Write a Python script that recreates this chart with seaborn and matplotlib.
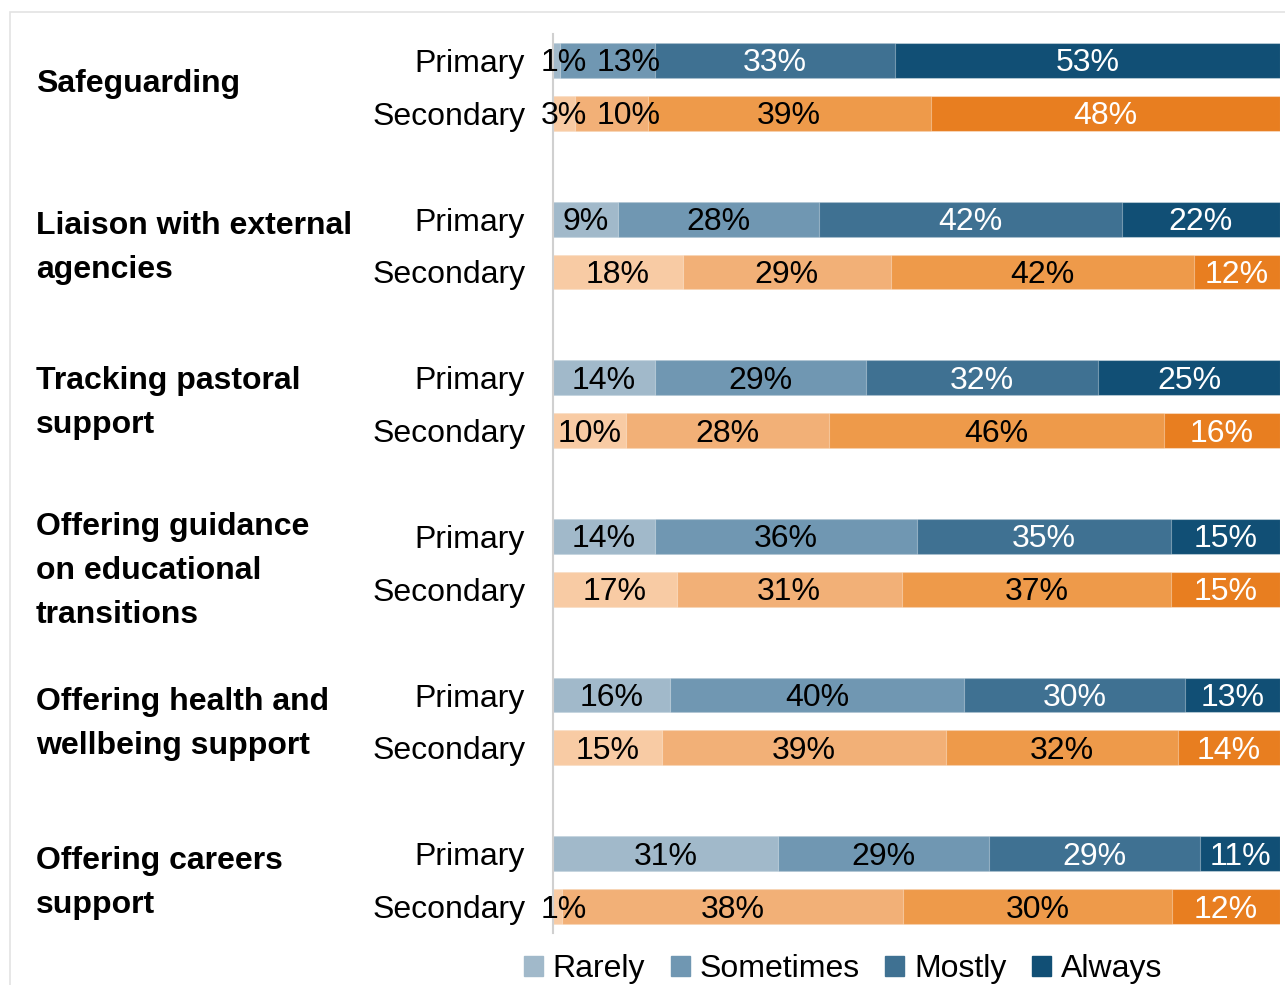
import matplotlib
matplotlib.use("Agg")
import matplotlib.pyplot as plt
import matplotlib.patches as mpatches
import matplotlib.transforms as mtransforms
import numpy as np
import pandas as pd
import seaborn as sns

# Survey areas (top to bottom) and response shares, in percent
areas = [
    "Safeguarding",
    "Liaison with external\nagencies",
    "Tracking pastoral\nsupport",
    "Offering guidance\non educational\ntransitions",
    "Offering health and\nwellbeing support",
    "Offering careers\nsupport",
]
responses = ["Rarely", "Sometimes", "Mostly", "Always"]
phases = ["Primary", "Secondary"]

primary_rarely = [1, 9, 14, 14, 16, 31]
primary_sometimes = [13, 28, 29, 36, 40, 29]
primary_mostly = [33, 42, 32, 35, 30, 29]
primary_always = [53, 22, 25, 15, 13, 11]

secondary_rarely = [3, 18, 10, 17, 15, 1]
secondary_sometimes = [10, 29, 28, 31, 39, 38]
secondary_mostly = [39, 42, 46, 37, 32, 30]
secondary_always = [48, 12, 16, 15, 14, 12]

blues = ["#a1b9ca", "#7097b2", "#3f7192", "#114f75"]
oranges = ["#f8cba4", "#f2b077", "#ee9a4a", "#e87e20"]
label_colors = {
    "Primary": ["black", "black", "white", "white"],
    "Secondary": ["black", "black", "black", "white"],
}
# vertical placement of each area name relative to its pair of bars
area_label_offset = [0.45, 0.55, 0.48, 0.65, 0.55, 0.55]

rows = []
for i, area in enumerate(areas):
    for j, (phase, vals) in enumerate([
        ("Primary", [primary_rarely[i], primary_sometimes[i], primary_mostly[i], primary_always[i]]),
        ("Secondary", [secondary_rarely[i], secondary_sometimes[i], secondary_mostly[i], secondary_always[i]]),
    ]):
        for resp, v in zip(responses, vals):
            rows.append({"area": area, "phase": phase, "pos": 3 * i + j,
                         "response": resp, "value": v})
df = pd.DataFrame(rows)
# 100% stacked: each bar is scaled by its own total
df["share"] = df["value"] / df.groupby(["area", "phase"])["value"].transform("sum")
df["cum"] = df.groupby(["area", "phase"])["share"].cumsum()
df["start"] = df["cum"] - df["share"]

sns.set_theme(style="white")
plt.rcParams["font.family"] = ["Liberation Sans", "DejaVu Sans"]
plt.rcParams["text.color"] = "black"
plt.rcParams["ytick.color"] = "black"

FS = 23

fig = plt.figure(figsize=(12.85, 9.85), dpi=100)
ax = fig.add_axes([553 / 1285, 1 - 933 / 985, 727 / 1285, (933 - 34) / 985])

# Outer frame
fig.patches.append(mpatches.Rectangle((10 / 1285, -0.1), 1.2, 1 - 12 / 985 + 0.1,
                                      transform=fig.transFigure, fill=False,
                                      edgecolor="#e3e3e3", linewidth=1.2, zorder=0))

# Draw cumulative bars from the outermost segment inwards so they stack.
# Bars of one phase sit 3 units apart, so width is relative to that spacing.
for phase, palette in [("Primary", blues), ("Secondary", oranges)]:
    sub = df[df["phase"] == phase]
    for k in range(len(responses) - 1, -1, -1):
        part = sub[sub["response"] == responses[k]]
        sns.barplot(data=part, x="cum", y="pos", orient="h", native_scale=True,
                    color=palette[k], saturation=1, width=0.66 / 3, errorbar=None,
                    edgecolor=(1, 1, 1, 0.35), linewidth=0.8, ax=ax)

ax.set_xlim(0, 1)
ax.set_ylim(16.5, -0.5)
ax.set_xticks([])
ax.set_xlabel("")
ax.set_ylabel("")
positions = sorted(df["pos"].unique())
ax.set_yticks(positions)
ax.set_yticklabels([phases[p % 3] for p in positions], fontsize=FS)
ax.tick_params(axis="y", length=0, pad=20)
for side in ["top", "right", "bottom"]:
    ax.spines[side].set_visible(False)
ax.spines["left"].set_color("#d0d0d0")
ax.spines["left"].set_linewidth(1.5)

# Value labels centred in each segment; kept near the plot area and
# nudged right where neighbours would collide
label_trans = mtransforms.offset_copy(ax.transData, fig=fig, y=-3, units="dots")
renderer = fig.canvas.get_renderer()
ax_left = ax.get_window_extent(renderer).x0
for (area, phase), grp in df.groupby(["area", "phase"], sort=False):
    prev_right = None
    for _, r in grp.iterrows():
        k = responses.index(r["response"])
        t = ax.text(r["start"] + r["share"] / 2, r["pos"], f"{r['value']}%",
                    ha="center", va="center", fontsize=FS, transform=label_trans,
                    color=label_colors[phase][k])
        bb = t.get_window_extent(renderer)
        limit = ax_left - 12 if prev_right is None else prev_right + 9
        if bb.x0 < limit:
            shift = limit - bb.x0
            t.set_transform(mtransforms.offset_copy(label_trans, fig=fig, x=shift, units="dots"))
            bb = t.get_window_extent(renderer)
        prev_right = bb.x1

# Area names on the far left
trans = mtransforms.blended_transform_factory(fig.transFigure, ax.transData)
for i, area in enumerate(areas):
    ax.text(36 / 1285, 3 * i + area_label_offset[i], area, transform=trans,
            ha="left", va="center", fontsize=FS, fontweight="bold",
            linespacing=1.6, clip_on=False)

handles = [mpatches.Patch(color=c, label=r) for c, r in zip(blues, responses)]
fig.legend(handles=handles, loc="center", bbox_to_anchor=(843 / 1285, 1 - 969 / 985),
           ncol=4, frameon=False, fontsize=FS, handlelength=0.6, handleheight=0.6,
           handletextpad=0.3, columnspacing=0.8, borderaxespad=0)

fig.savefig("out.png", dpi=100)
